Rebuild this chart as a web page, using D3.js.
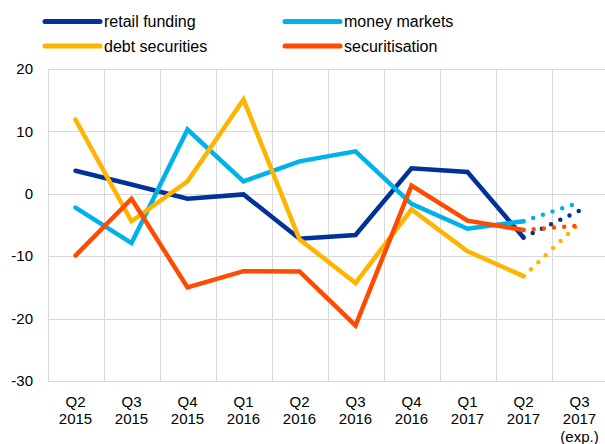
<!DOCTYPE html>
<head>
  <meta charset="utf-8">
  <script src="https://d3js.org/d3.v7.min.js"></script>
  <style>
    body { margin:0; background:#fff; }
    text { font-family: "Liberation Sans", Arial, sans-serif; fill:#000; }
  </style>
</head>
<body>
<script>
// quarters on the x axis (two or three lines per label)
const quarters = [
  ["Q2","2015"], ["Q3","2015"], ["Q4","2015"], ["Q1","2016"], ["Q2","2016"],
  ["Q3","2016"], ["Q4","2016"], ["Q1","2017"], ["Q2","2017"], ["Q3","2017","(exp.)"]
];
const yTicks = [20, 10, 0, -10, -20, -30];

// net percentages, last value = expectation for Q3 2017
const retailFunding  = [3.7, 1.5, -0.8, -0.1, -7.2, -6.6, 4.1, 3.5, -7.0, -2.7];
const moneyMarkets   = [-2.2, -7.9, 10.3, 2.0, 5.2, 6.8, -1.6, -5.6, -4.4, -1.4];
const debtSecurities = [11.9, -4.4, 2.0, 15.1, -7.3, -14.3, -2.5, -9.2, -13.2, -4.7];
const securitisation = [-9.9, -0.8, -15.0, -12.4, -12.45, -21.1, 1.3, -4.3, -5.8, -5.1];

const series = [
  {name: "retail funding",  values: retailFunding,  color: "#003299"},
  {name: "money markets",   values: moneyMarkets,   color: "#00b1ea"},
  {name: "debt securities", values: debtSecurities, color: "#ffb400"},
  {name: "securitisation",  values: securitisation, color: "#ff4b00"}
];

const W = 605, H = 444;
const svg = d3.select("body").append("svg").attr("width", W).attr("height", H);

const x = d3.scaleBand().domain(d3.range(quarters.length)).range([47.5, 607.5]);
const y = d3.scaleLinear().domain([-30, 20]).range([381, 69]);
const cx = i => x(i) + x.bandwidth() / 2;

// grid
const grid = svg.append("g").attr("stroke", "#d9d9d9").attr("stroke-width", 1);
grid.selectAll("line.h").data(yTicks).join("line")
    .attr("x1", 47.5).attr("x2", W)
    .attr("y1", d => Math.round(y(d)) + 0.5).attr("y2", d => Math.round(y(d)) + 0.5);
grid.selectAll("line.v").data(d3.range(quarters.length)).join("line")
    .attr("x1", d => Math.round(x(d)) + 0.5).attr("x2", d => Math.round(x(d)) + 0.5)
    .attr("y1", y(20)).attr("y2", y(-30));

// y labels
svg.append("g").selectAll("text").data(yTicks).join("text")
    .attr("x", 33).attr("y", d => y(d)).attr("dy", "0.35em")
    .attr("text-anchor", "end").style("font-size", "15px")
    .text(d => d);

// x labels
const xl = svg.append("g").selectAll("text").data(quarters).join("text")
    .attr("text-anchor", "middle").style("font-size", "15px")
    .attr("x", (d, i) => cx(i)).attr("y", 406.5);
xl.selectAll("tspan").data(d => d).join("tspan")
    .attr("x", function () { return d3.select(this.parentNode).attr("x"); })
    .attr("dy", (d, i) => i === 0 ? 0 : 17.5)
    .text(d => d);

const line = d3.line().x(d => cx(d[0])).y(d => y(d[1]));
const last = quarters.length - 1;

series.forEach(s => {
  const pts = s.values.map((v, i) => [i, v]);
  svg.append("path")
      .attr("d", line(pts.slice(0, last)))
      .attr("fill", "none").attr("stroke", s.color)
      .attr("stroke-width", 4.5).attr("stroke-linejoin", "miter").attr("stroke-linecap", "round");
  svg.append("path")
      .attr("d", line(pts.slice(last - 1)))
      .attr("fill", "none").attr("stroke", s.color)
      .attr("stroke-width", 4.5).attr("stroke-linecap", "round")
      .attr("stroke-dasharray", "0 10.2");
});

// legend
const legPos = [[45, 21.5], [285, 21.5], [45, 46], [285, 46]];
const leg = svg.append("g").selectAll("g").data(series).join("g")
    .attr("transform", (d, i) => `translate(${legPos[i][0]},${legPos[i][1]})`);
leg.append("line").attr("x1", 0).attr("x2", 55)
    .attr("stroke", d => d.color).attr("stroke-width", 5).attr("stroke-linecap", "round");
leg.append("text").attr("x", 59).attr("dy", "0.35em").style("font-size", "16px")
    .text(d => d.name);
</script>
</body>
